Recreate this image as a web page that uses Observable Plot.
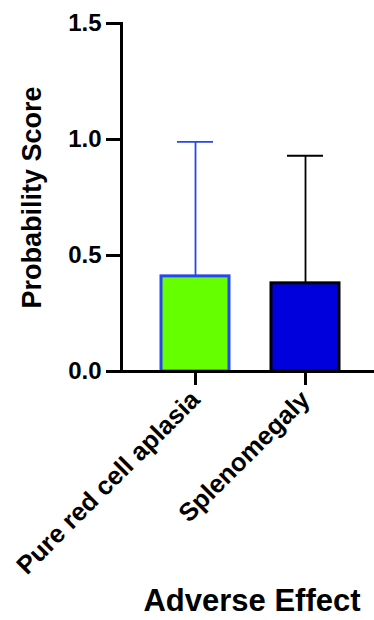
<!DOCTYPE html>
<html>
<head>
<meta charset="utf-8">
<script src="https://cdn.jsdelivr.net/npm/d3@7"></script>
<script src="https://cdn.jsdelivr.net/npm/@observablehq/plot@0.6"></script>
<style>
  html, body { margin: 0; padding: 0; background: #fff; }
</style>
</head>
<body>
<div id="chart"></div>
<script>
const effects = ["Pure red cell aplasia", "Splenomegaly"];
const scores = [0.41, 0.38];
const upperErrors = [0.99, 0.93];
const fillColors = ["#66ff00", "#0000dd"];
const strokeColors = ["#2447ee", "#000000"];
const yTicks = [0, 0.5, 1.0, 1.5];

const data = effects.map((e, i) => ({
  effect: e, score: scores[i], upper: upperErrors[i],
  fill: fillColors[i], stroke: strokeColors[i]
}));

const chart = Plot.plot({
  width: 374,
  height: 620,
  marginLeft: 121,
  marginRight: 0,
  marginTop: 23,
  marginBottom: 249,
  style: { fontFamily: "'Liberation Sans', Arial, sans-serif", color: "#000", background: "#fff" },
  x: { domain: effects, paddingInner: 0.382, paddingOuter: 0.341, align: 0.53 },
  y: { domain: [0, 1.5] },
  marks: [
    Plot.ruleX(data, { x: "effect", y1: "score", y2: "upper", stroke: d => d.stroke, strokeWidth: 1.8 }),
    Plot.tickY(data, { x: "effect", y: "upper", stroke: d => d.stroke, strokeWidth: 1.8, insetLeft: 16, insetRight: 16 }),
    Plot.barY(data, { x: "effect", y: "score", fill: d => d.fill, stroke: d => d.stroke, strokeWidth: 3 }),
    Plot.frame({ anchor: "left", strokeWidth: 3, stroke: "#000" }),
    Plot.ruleY([0], { strokeWidth: 3, stroke: "#000" }),
    Plot.axisY({ ticks: yTicks, tickFormat: d => d.toFixed(1), tickSize: 15, tickPadding: 5, strokeWidth: 3, fontSize: 24, fontWeight: "bold", label: null }),
    Plot.axisX({ tickRotate: -45, tickSize: 14, tickPadding: 10, strokeWidth: 3, fontSize: 25.5, fontWeight: "bold", label: null }),
    Plot.text(["Probability Score"], { frameAnchor: "left", textAnchor: "middle", dx: -89, rotate: -90, fontSize: 27, fontWeight: "bold", fill: "#000" }),
    Plot.text(["Adverse Effect"], { frameAnchor: "bottom", dx: 4, dy: 239, fontSize: 31, fontWeight: "bold", fill: "#000" })
  ]
});
document.getElementById("chart").appendChild(chart);
</script>
</body>
</html>
